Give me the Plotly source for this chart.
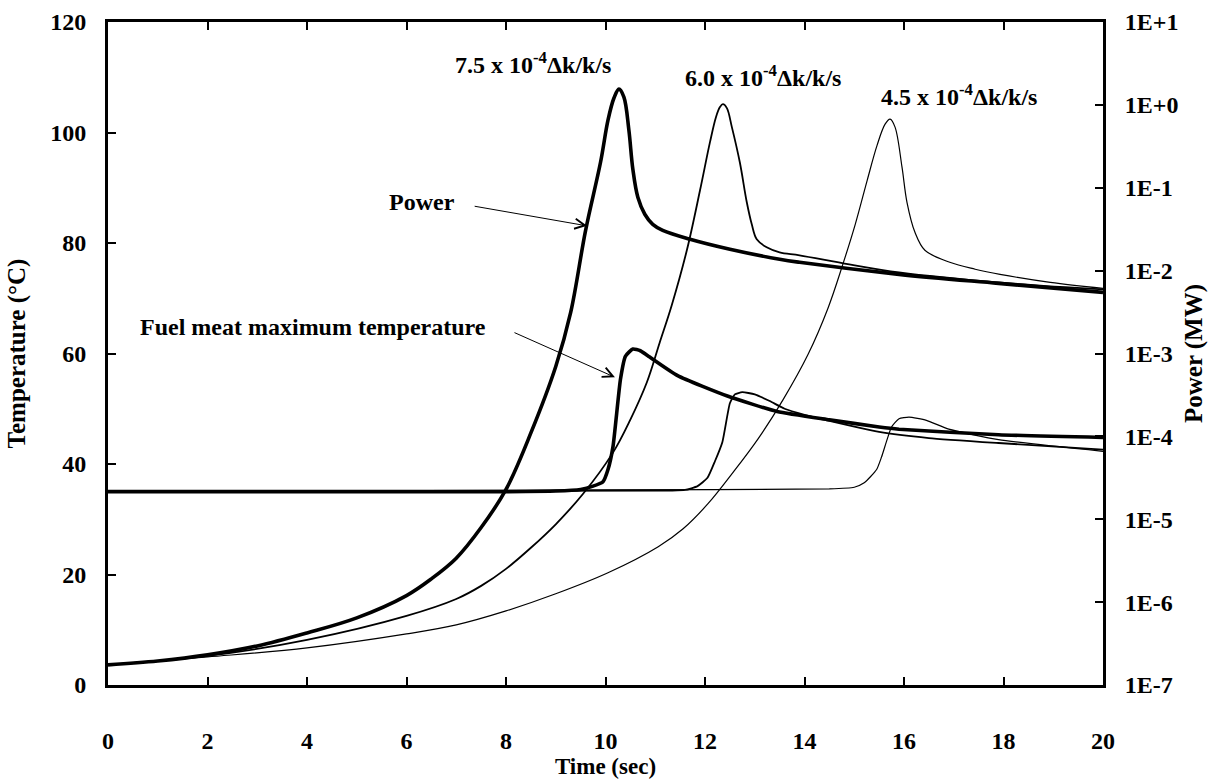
import plotly.graph_objects as go

# ---- Power (MW), right log axis ----
t_p75 = [0, 1.0, 2.0, 3.0, 4.0, 5.0, 6.0, 6.5, 7.0, 7.5, 8.0, 8.5, 9.0, 9.3, 9.6, 9.9, 10.05, 10.17,
         10.27, 10.37, 10.47, 10.55, 10.65, 10.79, 10.95, 11.15, 11.7, 12.5, 13.5, 13.9, 15.9, 17.9, 20]
p75 = [1.75e-7, 1.95e-7, 2.31e-7, 2.96e-7, 4.25e-7, 6.46e-7, 1.20e-6, 1.91e-6, 3.39e-6, 7.94e-6,
       2.29e-5, 1.10e-4, 6.97e-4, 3.13e-3, 3.06e-2, 2.03e-1, 6.55e-1, 1.21, 1.55, 1.24, 4.96e-1,
       1.67e-1, 7.67e-2, 4.79e-2, 3.62e-2, 3.06e-2, 2.39e-2, 1.81e-2, 1.37e-2, 1.26e-2, 9.02e-3,
       7.01e-3, 5.46e-3]

t_p60 = [0, 2, 4, 6, 7, 7.5, 8, 8.5, 9, 9.55, 10.15, 10.49, 10.83, 11.09, 11.33, 11.64, 11.9, 12.1,
         12.22, 12.3, 12.36, 12.44, 12.54, 12.7, 12.84, 12.94, 13.04, 13.24, 13.5, 13.9, 14.9, 15.9,
         17.9, 20]
p60 = [1.75e-7, 2.24e-7, 3.50e-7, 6.82e-7, 1.09e-6, 1.57e-6, 2.52e-6, 4.53e-6, 8.7e-6, 2.03e-5,
       6.37e-5, 1.55e-4, 4.47e-4, 1.36e-3, 3.80e-3, 1.81e-2, 9.33e-2, 3.55e-1, 7.11e-1, 9.40e-1,
       1.02, 9.14e-1, 5.39e-1, 2.03e-1, 6.68e-2, 3.62e-2, 2.39e-2, 1.91e-2, 1.66e-2, 1.53e-2,
       1.19e-2, 9.53e-3, 7.21e-3, 5.93e-3]

t_p45 = [0, 2, 4, 6, 7, 8, 9, 10.05, 11.06, 11.56, 12.06, 12.56, 13.07, 13.57, 14.07, 14.47, 14.77,
         15.02, 15.26, 15.46, 15.62, 15.72, 15.82, 15.96, 16.06, 16.22, 16.42, 16.92, 17.43, 17.93,
         18.94, 20]
p45 = [1.75e-7, 2.18e-7, 2.80e-7, 4.13e-7, 5.31e-7, 7.83e-7, 1.26e-6, 2.26e-6, 4.66e-6, 7.67e-6,
       1.54e-5, 3.65e-5, 9.40e-5, 2.78e-4, 9.73e-4, 3.50e-3, 1.19e-2, 3.62e-2, 1.23e-1, 3.27e-1,
       5.85e-1, 6.73e-1, 5.39e-1, 1.77e-1, 6.68e-2, 2.90e-2, 1.76e-2, 1.26e-2, 1.04e-2, 9.02e-3,
       7.21e-3, 6.10e-3]

# ---- Fuel meat maximum temperature (deg C), left axis ----
t_T75 = [0, 8, 9, 9.5, 9.75, 9.95, 10.05, 10.15, 10.3, 10.4, 10.55, 10.7, 10.85, 11.45, 12.45,
         13.45, 14.5, 15.5, 15.9, 17.9, 20]
T75 = [35.0, 35.0, 35.1, 35.4, 36.0, 36.8, 39.0, 43.1, 55.3, 59.5, 60.8, 60.5, 59.6, 56.0, 52.3,
       49.5, 48.0, 46.7, 46.3, 45.3, 44.8]

t_T60 = [0, 11.3, 11.6, 11.85, 12.05, 12.2, 12.35, 12.5, 12.6, 12.75, 13.0, 13.3, 13.6, 14.0,
         14.5, 15.5, 16.5, 17.9, 20]
T60 = [35.0, 35.2, 35.3, 36.0, 37.5, 40.5, 44.0, 51.0, 52.6, 53.0, 52.6, 51.4, 50.0, 48.9, 47.8,
       45.8, 44.7, 43.8, 42.6]

t_T45 = [0, 10, 14.5, 15.0, 15.2, 15.45, 15.55, 15.75, 15.9, 16.1, 16.45, 16.9, 17.9, 20]
T45 = [35.0, 35.3, 35.5, 35.8, 36.6, 39.0, 41.3, 46.7, 48.2, 48.5, 47.9, 46.3, 44.4, 42.3]

x_ticks = [0, 2, 4, 6, 8, 10, 12, 14, 16, 18, 20]
temp_ticks = [0, 20, 40, 60, 80, 100, 120]
power_ticks = [1e-7, 1e-6, 1e-5, 1e-4, 1e-3, 1e-2, 1e-1, 1e0, 1e1]
power_labels = ["1E-7", "1E-6", "1E-5", "1E-4", "1E-3", "1E-2", "1E-1", "1E+0", "1E+1"]

FONT = "Liberation Serif"
W_THICK, W_MED, W_THIN = 3.6, 1.8, 1.2

fig = go.Figure()
for tt, pp, w in [(t_p75, p75, W_THICK), (t_p60, p60, W_MED), (t_p45, p45, W_THIN)]:
    fig.add_trace(go.Scatter(x=tt, y=pp, yaxis="y2", mode="lines",
                             line=dict(color="black", width=w, shape="spline", smoothing=1.0),
                             showlegend=False))
for tt, TT, w in [(t_T75, T75, W_THICK), (t_T60, T60, W_MED), (t_T45, T45, W_THIN)]:
    fig.add_trace(go.Scatter(x=tt, y=TT, mode="lines",
                             line=dict(color="black", width=w, shape="spline", smoothing=0.5),
                             showlegend=False))

tick_font = dict(family=FONT, size=24, color="black", weight="bold")
title_font = dict(family=FONT, size=25, color="black", weight="bold")
xtitle_font = dict(family=FONT, size=23, color="black", weight="bold")

fig.update_layout(
    width=1216, height=782,
    margin=dict(l=108, r=113, t=22, b=97),
    paper_bgcolor="white", plot_bgcolor="white",
    xaxis=dict(range=[0, 20], tickvals=x_ticks, ticks="inside", ticklen=8, tickwidth=2,
               tickcolor="black", showline=True, linewidth=3, linecolor="black",
               mirror="ticks", showgrid=False, zeroline=False, tickfont=tick_font,
               ticklabelstandoff=32, automargin=False,
               title=dict(text="Time (sec)", font=xtitle_font, standoff=4)),
    yaxis=dict(range=[0, 120], tickvals=temp_ticks, ticks="inside", ticklen=8, tickwidth=2,
               tickcolor="black", showline=True, linewidth=3, linecolor="black",
               showgrid=False, zeroline=False, tickfont=tick_font, ticklabelstandoff=14,
               automargin=False,
               title=dict(text="Temperature (°C)", font=title_font, standoff=18)),
    yaxis2=dict(type="log", range=[-7, 1], overlaying="y", side="right",
                tickvals=power_ticks, ticktext=power_labels, ticks="inside", ticklen=8,
                tickwidth=2, tickcolor="black", showline=True, linewidth=3,
                linecolor="black", showgrid=False, zeroline=False, tickfont=tick_font,
                ticklabelstandoff=14, automargin=False,
                title=dict(text="Power (MW)", font=title_font, standoff=8)),
)

ann_font = dict(family=FONT, size=24, color="black", weight="bold")
labels = [
    ("7.5 x 10<sup>-4</sup>Δk/k/s", 8.54, 112.6),
    ("6.0 x 10<sup>-4</sup>Δk/k/s", 13.17, 110.2),
    ("4.5 x 10<sup>-4</sup>Δk/k/s", 17.1, 106.8),
]
for txt, xx, yy in labels:
    fig.add_annotation(x=xx, y=yy, xref="x", yref="y", text=txt, showarrow=False, font=ann_font)

fig.add_annotation(x=6.31, y=87.4, xref="x", yref="y", text="Power", showarrow=False, font=ann_font)
fig.add_annotation(x=4.12, y=64.8, xref="x", yref="y", text="Fuel meat maximum temperature",
                   showarrow=False, font=ann_font)
# arrows
fig.add_annotation(x=9.63, y=83.1, ax=7.34, ay=86.7, xref="x", yref="y", axref="x", ayref="y",
                   text="", showarrow=True, arrowhead=5, arrowsize=2, arrowwidth=1, arrowcolor="black")
fig.add_annotation(x=10.19, y=55.7, ax=8.14, ay=63.9, xref="x", yref="y", axref="x", ayref="y",
                   text="", showarrow=True, arrowhead=5, arrowsize=2, arrowwidth=1, arrowcolor="black")

fig.write_html("out.html")
